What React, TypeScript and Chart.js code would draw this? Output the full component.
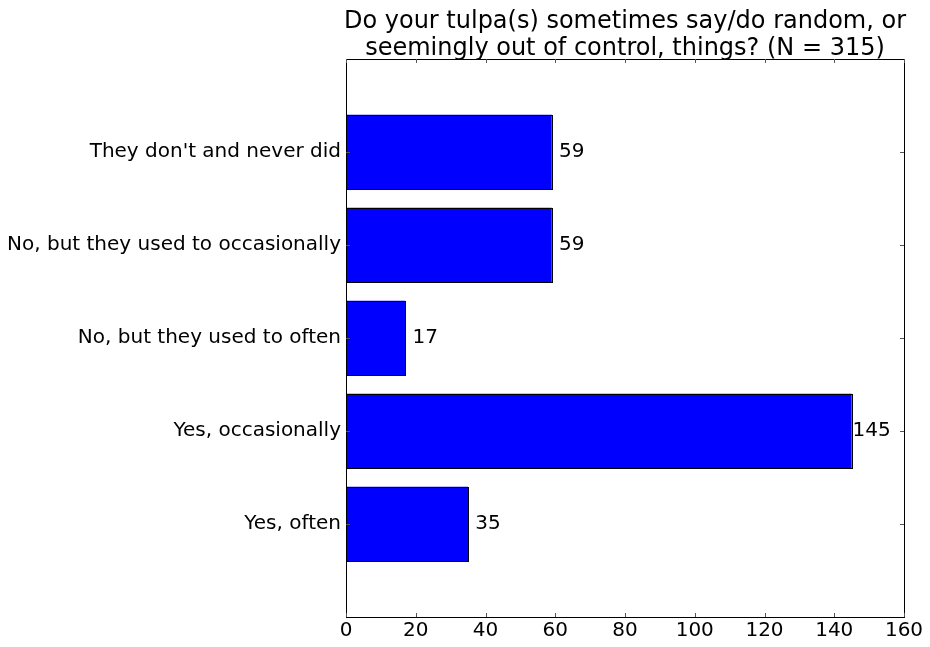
import React, { useEffect, useRef } from "react";
import { Chart, registerables } from "chart.js";

Chart.register(...registerables);

const categories = [
  "They don't and never did",
  "No, but they used to occasionally",
  "No, but they used to often",
  "Yes, occasionally",
  "Yes, often",
];
const counts = [59, 59, 17, 145, 35];
const titleLines = [
  "Do your tulpa(s) sometimes say/do random, or",
  "seemingly out of control, things? (N = 315)",
];
const xMin = 0;
const xMax = 160;
const xStep = 20;

const FONT = "'DejaVu Sans', sans-serif";

export default function App() {
  const ref = useRef<HTMLCanvasElement | null>(null);

  useEffect(() => {
    document.body.style.margin = "0";
    const canvas = ref.current;
    if (!canvas) return;

    const labels = ["", ...categories, ""];
    const data = [null, ...counts, null];

    const overlay = {
      id: "mplOverlay",
      afterDraw(chart: any) {
        const ctx = chart.ctx;
        const a = chart.chartArea;
        const xs = chart.scales.x;
        const ys = chart.scales.y;
        ctx.save();
        // crisp bar edges
        ctx.strokeStyle = "#000";
        ctx.lineWidth = 1;
        const meta = chart.getDatasetMeta(0);
        meta.data.forEach((el: any, i: number) => {
          if (data[i] == null) return;
          const x0 = Math.round(Math.min(el.base, el.x));
          const x1 = Math.round(Math.max(el.base, el.x));
          const y0 = Math.round(el.y - el.height / 2);
          const y1 = Math.round(el.y + el.height / 2);
          ctx.strokeRect(x0 + 0.5, y0 + 0.5, x1 - x0, y1 - y0);
        });
        // frame
        ctx.strokeRect(Math.round(a.left) + 0.5, Math.round(a.top) + 0.5, Math.round(a.right - a.left), Math.round(a.bottom - a.top));
        // inward ticks
        ctx.strokeStyle = "#555";
        ctx.beginPath();
        for (let v = xMin; v <= xMax; v += xStep) {
          const px = Math.round(xs.getPixelForValue(v)) + 0.5;
          ctx.moveTo(px, a.bottom);
          ctx.lineTo(px, a.bottom - 4);
          ctx.moveTo(px, a.top);
          ctx.lineTo(px, a.top + 4);
        }
        categories.forEach((_, i) => {
          const py = Math.round(ys.getPixelForValue(i + 1)) + 0.5;
          ctx.moveTo(a.left, py);
          ctx.lineTo(a.left + 4, py);
          ctx.moveTo(a.right, py);
          ctx.lineTo(a.right - 4, py);
        });
        ctx.stroke();
        // value labels
        ctx.fillStyle = "#000";
        ctx.font = `20px ${FONT}`;
        ctx.textAlign = "center";
        ctx.textBaseline = "middle";
        counts.forEach((v, i) => {
          const px = xs.getPixelForValue(v) + 20;
          const py = ys.getPixelForValue(i + 1);
          ctx.fillText(String(v), px, py);
        });
        // title
        ctx.font = `24px ${FONT}`;
        ctx.textBaseline = "alphabetic";
        const cx = (a.left + a.right) / 2;
        ctx.fillText(titleLines[0], cx, 28);
        ctx.fillText(titleLines[1], cx, 55);
        ctx.restore();
      },
    };

    const chart = new Chart(canvas, {
      type: "bar",
      data: {
        labels,
        datasets: [
          {
            data,
            backgroundColor: "#0000ff",
            borderWidth: 0,
            barPercentage: 0.8,
            categoryPercentage: 1,
          } as any,
        ],
      },
      options: {
        indexAxis: "y",
        responsive: false,
        animation: false,
        layout: { padding: { top: 59, right: 26, left: 0, bottom: 0 } },
        plugins: {
          legend: { display: false },
          title: { display: false },
          tooltip: { enabled: false },
        },
        scales: {
          x: {
            type: "linear",
            min: xMin,
            max: xMax,
            ticks: {
              stepSize: xStep,
              color: "#000",
              font: { family: FONT, size: 20 },
              padding: 2,
            },
            grid: { display: false, drawTicks: false },
            border: { display: false },
            afterFit(scale: any) {
              scale.height = 30;
            },
          },
          y: {
            type: "category",
            offset: false,
            ticks: {
              color: "#000",
              font: { family: FONT, size: 20 },
              padding: 5,
              autoSkip: false,
            },
            grid: { display: false, drawTicks: false },
            border: { display: false },
            afterFit(scale: any) {
              scale.width = 346;
            },
          },
        },
      },
      plugins: [overlay],
    });

    return () => chart.destroy();
  }, []);

  return (
    <div style={{ width: 930, height: 647 }}>
      <canvas ref={ref} width={930} height={647} style={{ display: "block" }} />
    </div>
  );
}
